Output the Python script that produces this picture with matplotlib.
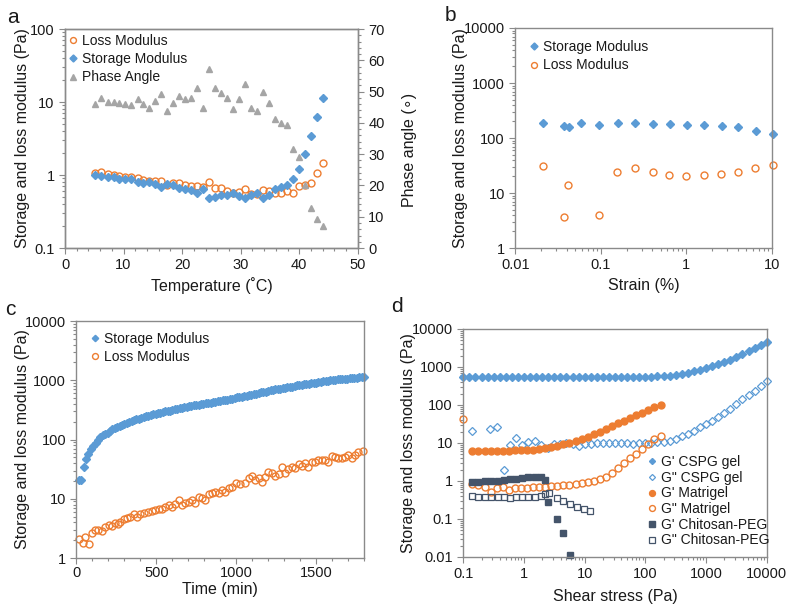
import matplotlib
matplotlib.use('Agg')
import matplotlib.pyplot as plt
from matplotlib.ticker import LogLocator, NullFormatter, FuncFormatter, MultipleLocator

plt.rcParams['font.family'] = ['Liberation Sans', 'DejaVu Sans']

# ---------------- data: panel a ----------------
temp_a = [5.2, 6.2, 7.3, 8.3, 9.3, 10.3, 11.3, 12.4, 13.4, 14.4, 15.4, 16.4, 17.5, 18.5,
          19.5, 20.5, 21.6, 22.6, 23.6, 24.6, 25.6, 26.7, 27.7, 28.7, 29.7, 30.7, 31.8,
          32.8, 33.8, 34.8, 35.8, 36.9, 37.9, 38.9, 39.9, 40.9, 42.0, 43.0, 44.0]
loss_a = [1.05, 1.11, 1.03, 1.0, 0.97, 0.95, 0.93, 0.9, 0.85, 0.84, 0.84, 0.84, 0.73, 0.79,
          0.77, 0.73, 0.71, 0.71, 0.68, 0.81, 0.66, 0.66, 0.61, 0.56, 0.59, 0.65, 0.55,
          0.55, 0.62, 0.6, 0.57, 0.57, 0.6, 0.56, 0.71, 0.72, 0.77, 1.05, 1.44]
storage_a = [1.0, 0.97, 0.93, 0.95, 0.87, 0.87, 0.87, 0.81, 0.77, 0.81, 0.75, 0.68, 0.75, 0.73,
             0.66, 0.64, 0.62, 0.56, 0.64, 0.49, 0.50, 0.53, 0.54, 0.56, 0.52, 0.48, 0.54,
             0.56, 0.48, 0.53, 0.64, 0.69, 0.73, 0.89, 1.2, 1.94, 3.4, 6.2, 11.2]
phase_a = [46, 47.8, 46.8, 46.8, 46.4, 46, 45.7, 47.5, 46, 44.8, 47, 49.2, 43.9, 46.4,
           48.6, 47.5, 47.8, 51, 44.9, 57.1, 51, 49.6, 48.1, 44.3, 47.5, 52.4, 44.9,
           43.9, 49.8, 46.4, 41.4, 40, 39.3, 31.8, 29, 20.1, 12.7, 9.2, 7]

# ---------------- data: panel b ----------------
strain_storage = [0.0214, 0.0367, 0.0427, 0.0589, 0.0964, 0.157, 0.252, 0.412, 0.645, 1.03,
                  1.61, 2.58, 4.04, 6.5, 10.2]
storage_b = [187, 168, 156, 187, 172, 187, 187, 180, 180, 172, 172, 163, 156, 136, 118]
strain_loss = [0.0210, 0.0367, 0.0419, 0.0954, 0.153, 0.248, 0.405, 0.631, 1.0, 1.61, 2.57,
               4.0, 6.4, 10.2]
loss_b = [30.5, 3.6, 13.8, 4.0, 24.1, 28.9, 24.1, 21.2, 20.1, 21.2, 22.1, 24.1, 28.1, 31.8]

# ---------------- data: panel c ----------------
time_storage = [15, 30, 45, 60, 75, 90, 105, 120, 135, 150, 165, 180, 195, 210, 225, 240,
                255, 270, 285, 300, 315, 330, 345, 360, 375, 390, 405, 420, 435, 450, 465,
                480, 495, 510, 525, 540, 555, 570, 585, 600, 615, 630, 645, 660, 675, 690,
                705, 720, 735, 750, 765, 780, 795, 810, 825, 840, 855, 870, 885, 900, 915,
                930, 945, 960, 975, 990, 1005, 1020, 1035, 1050, 1065, 1080, 1095, 1110,
                1125, 1140, 1155, 1170, 1185, 1200, 1215, 1230, 1245, 1260, 1275, 1290,
                1305, 1320, 1335, 1350, 1365, 1380, 1395, 1410, 1425, 1440, 1455, 1470,
                1485, 1500, 1515, 1530, 1545, 1560, 1575, 1590, 1605, 1620, 1635, 1650,
                1665, 1680, 1695, 1710, 1725, 1740, 1755, 1770, 1785, 1800]
storage_c = [21, 21, 34, 47, 58, 70, 79, 88, 100, 111,
             119, 126, 131, 141, 148, 155, 162, 170, 178, 182,
             191, 197, 204, 211, 221, 226, 229, 240, 245, 254,
             260, 266, 272, 283, 285, 292, 299, 302, 309, 316,
             324, 331, 335, 338, 351, 355, 363, 367, 376, 380,
             389, 391, 398, 407, 412, 417, 427, 432, 442, 447,
             457, 466, 473, 479, 490, 501, 513, 519, 531, 537,
             550, 562, 575, 589, 596, 610, 630, 631, 646, 661,
             676, 684, 700, 708, 724, 733, 750, 767, 776, 785,
             804, 820, 832, 841, 861, 871, 881, 891, 896, 912,
             933, 944, 955, 966, 977, 1000, 1005, 1023, 1035, 1047,
             1059, 1072, 1072, 1092, 1096, 1109, 1109, 1122, 1135, 1148]
time_loss = [14, 42, 56, 77, 98, 119, 133, 160, 181, 202, 223, 244, 260, 275, 296, 317, 338,
             358, 379, 400, 421, 446, 473, 494, 515, 535, 556, 577, 598, 619, 640, 660, 681,
             702, 723, 744, 765, 785, 806, 827, 848, 869, 890, 910, 931, 952, 973, 1000,
             1025, 1056, 1083, 1098, 1119, 1140, 1160, 1181, 1202, 1223, 1244, 1265, 1285,
             1306, 1327, 1348, 1369, 1390, 1410, 1431, 1452, 1473, 1494, 1514, 1535, 1556,
             1577, 1598, 1619, 1640, 1660, 1681, 1702, 1723, 1744, 1765, 1796]
loss_c = [2.07, 1.77, 2.23, 1.70, 2.61, 2.97, 2.97, 2.89, 3.38, 3.61, 3.47, 3.85, 3.70, 4.0,
          4.5, 4.68, 4.87, 5.53, 4.98, 5.53, 5.82, 6.05, 6.3, 6.46, 6.8, 6.6, 7.16, 7.83,
          7.34, 8.15, 9.5, 7.83, 8.4, 8.9, 9.5, 8.6, 10.8, 10.2, 9.7, 12.0, 12.6, 13.2,
          12.3, 14.1, 13.2, 15.0, 16.0, 18.2, 17.6, 18.7, 22.1, 24.2, 20.7, 22.1, 19.4,
          23.5, 28.6, 27.5, 24.2, 26.2, 34.8, 27.0, 31.4, 34.8, 33.0, 38.6, 35.5, 39.6,
          34.8, 42.2, 42.0, 45.0, 46.0, 46.0, 41.0, 52.6, 50.0, 48.0, 48.0, 50.0, 54.7,
          48.0, 54.7, 62.2, 64.7]

# ---------------- data: panel d ----------------
cspg_stress = [0.1, 0.126, 0.158, 0.2, 0.251, 0.316, 0.398, 0.501, 0.631, 0.794, 1.0, 1.26,
               1.58, 2.0, 2.51, 3.16, 3.98, 5.01, 6.31, 7.94, 10, 12.6, 15.8, 20, 25.1, 31.6,
               39.8, 50.1, 63.1, 79.4, 100, 126, 158, 200, 251, 316, 398, 501, 631, 794,
               1000, 1260, 1580, 2000, 2510, 3160, 3980, 5010, 6310, 7940, 10000]
cspg_g1 = [535, 535, 535, 535, 535, 535, 545, 560, 540, 535, 535, 540, 540, 535, 545, 540,
           540, 550, 540, 535, 535, 540, 540, 540, 550, 545, 545, 555, 550, 545, 550, 560,
           565, 575, 580, 600, 645, 700, 770, 850, 940, 1060, 1200, 1370, 1560, 1850, 2250,
           2700, 3250, 3900, 4650]
cspg2_stress = [0.137, 0.28, 0.36, 0.47, 0.59, 0.75, 0.94, 1.18, 1.5, 1.9, 2.5, 3.1, 3.98,
                5.01, 6.31, 7.94, 10, 12.6, 15.8, 20, 25.1, 31.6, 39.8, 50.1, 63.1, 79.4, 100,
                126, 158, 200, 251, 316, 398, 501, 631, 794, 1000, 1260, 1580, 2000, 2510,
                3160, 3980, 5010, 6310, 7940, 10000]
cspg_g2 = [21, 24, 27, 1.9, 8.8, 13.5, 8.8, 10.8, 11.2, 8.7, 7.3, 9.4, 9.6, 9.8, 9.4, 8.5,
           9.6, 9.6, 9.8, 9.8, 9.8, 9.8, 9.8, 9.8, 9.6, 9.8, 9.8, 10, 10.3, 10.8, 11.5, 12.8,
           15, 17.5, 21, 26, 32, 38, 47, 60, 80, 108, 140, 180, 235, 310, 440]
matrigel_stress = [0.141, 0.178, 0.224, 0.282, 0.355, 0.447, 0.562, 0.708, 0.891, 1.12, 1.41,
                   1.78, 2.24, 2.82, 3.55, 4.47, 5.62, 7.08, 8.91, 11.2, 14.1, 17.8, 22.4,
                   28.2, 35.5, 44.7, 56.2, 70.8, 89.1, 112, 141, 178]
matrigel_g1 = [6.3, 6.3, 6.3, 6.3, 6.3, 6.3, 6.3, 6.4, 6.4, 6.5, 6.6, 6.8, 7.2, 7.8, 8.5, 9.3,
               10.2, 11.2, 12.4, 14.5, 17, 20, 23.5, 27.5, 33, 39, 46, 54, 63, 74, 86, 100]
matrigel2_stress = [0.1] + matrigel_stress
matrigel_g2 = [43, 0.83, 0.77, 0.71, 0.50, 0.64, 0.68, 0.58, 0.67, 0.64, 0.64, 0.68, 0.71,
               0.71, 0.75, 0.75, 0.79, 0.79, 0.83, 0.88, 0.92, 1.0, 1.12, 1.3, 1.6, 2.2, 3.0,
               4.0, 5.2, 7.0, 9.5, 12.5, 15.5]
chitosan_stress = [0.137, 0.178, 0.23, 0.29, 0.37, 0.47, 0.59, 0.75, 0.94, 1.18, 1.52, 1.92,
                   2.2, 2.5, 3.5, 4.4, 5.8]
chitosan_g1 = [0.94, 0.94, 1.0, 1.0, 1.0, 1.03, 1.11, 1.11, 1.2, 1.3, 1.3, 1.25, 1.06, 0.285,
               0.102, 0.042, 0.011]
chitosan2_stress = [0.137, 0.178, 0.23, 0.29, 0.37, 0.47, 0.59, 0.75, 0.94, 1.18, 1.52, 1.92,
                    2.2, 2.55, 3.5, 4.4, 5.8, 7.6, 9.7, 12.4]
chitosan_g2 = [0.41, 0.39, 0.39, 0.39, 0.39, 0.39, 0.36, 0.39, 0.39, 0.39, 0.39, 0.41, 0.45,
               0.47, 0.36, 0.30, 0.25, 0.21, 0.18, 0.166]

# ---------------- style ----------------
BLUE = '#5B9BD5'
ORANGE = '#ED7D31'
GRAY = '#A5A5A5'
NAVY = '#44546A'
SPINE = '#8a8a8a'
TEXT = '#1a1a1a'
TICK_FS = 10.5
LAB_FS = 11.5
LEG_FS = 10

fmt = FuncFormatter(lambda v, p: f'{v:g}')

fig = plt.figure(figsize=(8, 6.1), dpi=100)


def style(ax, logx=False, logy=False):
    for s in ax.spines.values():
        s.set_color(SPINE)
        s.set_linewidth(1.0)
    ax.tick_params(which='both', direction='out', color=SPINE, labelsize=TICK_FS,
                   labelcolor=TEXT, width=0.8)
    ax.tick_params(which='major', length=4)
    ax.tick_params(which='minor', length=2.5)
    if logx:
        ax.set_xscale('log')
        ax.xaxis.set_major_locator(LogLocator(base=10, numticks=20))
        ax.xaxis.set_minor_locator(LogLocator(base=10, subs=range(2, 10), numticks=100))
        ax.xaxis.set_major_formatter(fmt)
        ax.xaxis.set_minor_formatter(NullFormatter())
    if logy:
        ax.set_yscale('log')
        ax.yaxis.set_major_locator(LogLocator(base=10, numticks=20))
        ax.yaxis.set_minor_locator(LogLocator(base=10, subs=range(2, 10), numticks=100))
        ax.yaxis.set_major_formatter(fmt)
        ax.yaxis.set_minor_formatter(NullFormatter())


def legend(ax, handles, x, y, spacing=0.3):
    lg = ax.legend(handles=handles, loc='upper left', bbox_to_anchor=(x, y),
                   bbox_transform=fig.transFigure, frameon=False, fontsize=LEG_FS,
                   handlelength=0.8, handletextpad=0.25, labelspacing=spacing,
                   borderpad=0, borderaxespad=0, markerscale=0.85)
    for t in lg.get_texts():
        t.set_color(TEXT)
    return lg


# ---------------- panel a ----------------
axa = fig.add_axes([0.08125, 0.5934, 0.366, 0.359])
style(axa, logy=True)
axa.set_xlim(0, 50)
axa.set_ylim(0.1, 100)
axa.xaxis.set_major_locator(MultipleLocator(10))
axa.xaxis.set_minor_locator(MultipleLocator(2))
ha1, = axa.plot(temp_a, loss_a, 'o', ms=5, mfc='none', mec=ORANGE, mew=1.0,
                label='Loss Modulus', clip_on=False)
ha2, = axa.plot(temp_a, storage_a, 'D', ms=4.2, color=BLUE, mec=BLUE,
                label='Storage Modulus', clip_on=False)
axa2 = axa.twinx()
style(axa2)
axa2.set_ylim(0, 70)
axa2.yaxis.set_major_locator(MultipleLocator(10))
axa2.yaxis.set_minor_locator(MultipleLocator(2))
ha3, = axa2.plot(temp_a, phase_a, '^', ms=5, color=GRAY, mec=GRAY, label='Phase Angle')
axa.set_xlabel('Temperature (˚C)', fontsize=LAB_FS, color=TEXT)
axa.xaxis.set_label_coords(0.5, -0.132)
axa.set_ylabel('Storage and loss modulus (Pa)', fontsize=LAB_FS, color=TEXT)
axa.yaxis.set_label_coords(-0.12, 0.5)
axa2.set_ylabel('Phase angle (∘)', fontsize=LAB_FS, color=TEXT, rotation=90)
axa2.yaxis.set_label_coords(1.15, 0.45)
legend(axa2, [ha1, ha2, ha3], 0.084, 0.944, spacing=0.3)

# ---------------- panel b ----------------
axb = fig.add_axes([0.644, 0.5934, 0.321, 0.3607])
style(axb, logx=True, logy=True)
axb.set_xlim(0.01, 10)
axb.set_ylim(1, 10000)
hb1, = axb.plot(strain_storage, storage_b, 'D', ms=4.2, color=BLUE, mec=BLUE,
                label='Storage Modulus', clip_on=False)
hb2, = axb.plot(strain_loss, loss_b, 'o', ms=5, mfc='none', mec=ORANGE, mew=1.0,
                label='Loss Modulus', clip_on=False)
axb.set_xlabel('Strain (%)', fontsize=LAB_FS, color=TEXT)
axb.xaxis.set_label_coords(0.5, -0.136)
axb.set_ylabel('Storage and loss modulus (Pa)', fontsize=LAB_FS, color=TEXT)
axb.yaxis.set_label_coords(-0.183, 0.5)
legend(axb, [hb1, hb2], 0.661, 0.934, spacing=0.3)

# ---------------- panel c ----------------
axc = fig.add_axes([0.0956, 0.0852, 0.3594, 0.3885])
style(axc, logy=True)
axc.tick_params(axis='x', which='both', pad=1.5)
axc.set_xlim(0, 1800)
axc.set_ylim(1, 10000)
axc.xaxis.set_major_locator(MultipleLocator(500))
axc.xaxis.set_minor_locator(MultipleLocator(100))
hc2, = axc.plot(time_loss, loss_c, 'o', ms=5, mfc='none', mec=ORANGE, mew=1.0,
                label='Loss Modulus', clip_on=False)
hc1, = axc.plot(time_storage, storage_c, 'D', ms=3.8, color=BLUE, mec=BLUE,
                label='Storage Modulus', clip_on=False)
axc.set_xlabel('Time (min)', fontsize=LAB_FS, color=TEXT)
axc.xaxis.set_label_coords(0.5, -0.1)
axc.set_ylabel('Storage and loss modulus (Pa)', fontsize=LAB_FS, color=TEXT)
axc.yaxis.set_label_coords(-0.162, 0.5)
legend(axc, [hc1, hc2], 0.112, 0.456, spacing=0.3)

# ---------------- panel d ----------------
axd = fig.add_axes([0.5791, 0.0869, 0.3793, 0.3738])
style(axd, logx=True, logy=True)
axd.set_xlim(0.1, 10000)
axd.set_ylim(0.01, 10000)
hd1, = axd.plot(cspg_stress, cspg_g1, 'D', ms=3.6, color=BLUE, mec=BLUE,
                label="G' CSPG gel", clip_on=False)
hd2, = axd.plot(cspg2_stress, cspg_g2, 'D', ms=3.6, mfc='none', mec=BLUE, mew=0.9,
                label='G" CSPG gel', clip_on=False)
hd3, = axd.plot(matrigel_stress, matrigel_g1, 'o', ms=5, color=ORANGE, mec=ORANGE,
                label="G' Matrigel", clip_on=False)
hd4, = axd.plot(matrigel2_stress, matrigel_g2, 'o', ms=5, mfc='none', mec=ORANGE, mew=1.0,
                label='G" Matrigel', clip_on=False)
hd5, = axd.plot(chitosan_stress, chitosan_g1, 's', ms=4.5, color=NAVY, mec=NAVY,
                label="G' Chitosan-PEG", clip_on=False)
hd6, = axd.plot(chitosan2_stress, chitosan_g2, 's', ms=4.5, mfc='none', mec=NAVY, mew=0.9,
                label='G" Chitosan-PEG', clip_on=False)
axd.set_xlabel('Shear stress (Pa)', fontsize=LAB_FS, color=TEXT)
axd.xaxis.set_label_coords(0.5, -0.14)
axd.set_ylabel('Storage and loss modulus (Pa)', fontsize=LAB_FS, color=TEXT)
axd.yaxis.set_label_coords(-0.156, 0.5)
legend(axd, [hd1, hd2, hd3, hd4, hd5, hd6], 0.808, 0.254, spacing=0.12)

# ---------------- panel letters ----------------
fig.text(0.009, 0.972, 'a', fontsize=15, color=TEXT, va='center', ha='left')
fig.text(0.5625, 0.975, 'b', fontsize=15, color=TEXT, va='center', ha='center')
fig.text(0.0125, 0.492, 'c', fontsize=15, color=TEXT, va='center', ha='center')
fig.text(0.496, 0.498, 'd', fontsize=15, color=TEXT, va='center', ha='center')

fig.savefig('out.png', dpi=100)
